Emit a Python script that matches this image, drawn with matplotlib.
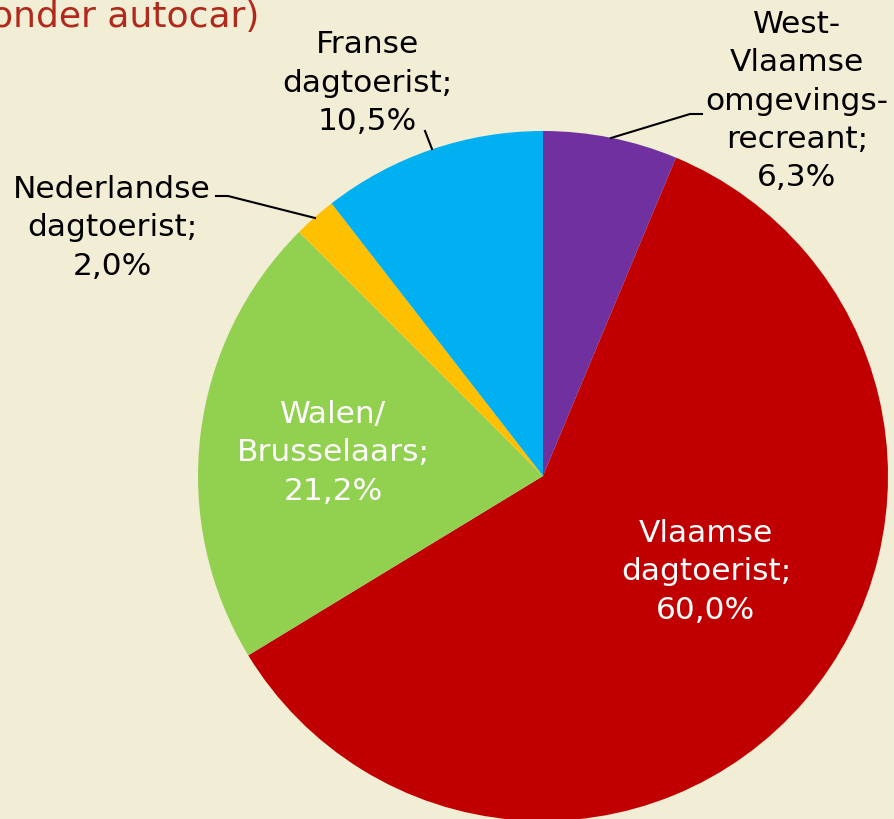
import matplotlib.pyplot as plt

# data
categories = ['West-Vlaamse\nomgevings-\nrecreant', 'Vlaamse\ndagtoerist', 'Walen/\nBrusselaars',
              'Nederlandse\ndagtoerist', 'Franse\ndagtoerist']
shares = [6.3, 60.0, 21.2, 2.0, 10.5]
colors = ['#7030A0', '#C00000', '#92D050', '#FFC000', '#00B0F0']
title = '(zonder autocar)'

bg = '#F2EDD5'
W, H = 894, 820
cx, cy, R = 543, 477, 345  # pie center / radius in pixels


def px(x, y):
    # pixel position (from top-left) -> pie data coords
    return (x - cx) / R, (cy - y) / R


def label(i):
    name = categories[i].replace('West-Vlaamse', 'West-\nVlaamse')
    return name + ';\n' + f'{shares[i]:.1f}'.replace('.', ',') + '%'


fig = plt.figure(figsize=(W / 100, H / 100), dpi=100, facecolor=bg)
fig.text(259 / W, 1 - 27 / H, title, ha='right', va='baseline', fontsize=26, color='#B0291B')

ax = fig.add_axes([(cx - R) / W, (H - cy - R) / H, 2 * R / W, 2 * R / H])
ax.set_facecolor(bg)
ax.pie(shares, colors=colors, startangle=90, counterclock=False, radius=1,
       wedgeprops=dict(linewidth=0))
ax.set_xlim(-1, 1)
ax.set_ylim(-1, 1)
ax.set_aspect('equal')
ax.axis('off')

fs = 22.5
txt = dict(ha='center', va='center', fontsize=fs, linespacing=1.4, clip_on=False)

# outside labels
ax.text(*px(797, 101), label(0), color='black', **txt)
ax.text(*px(367, 83), label(4), color='black', **txt)
ax.text(*px(112, 228), label(3), color='black', **txt)
# inside labels
ax.text(*px(706, 572), label(1), color='white', **txt)
ax.text(*px(333, 453), label(2), color='white', **txt)

# leader lines
for pts in [[(611, 139), (690, 115), (702, 115)],
            [(432, 150), (425, 132)],
            [(216, 197), (228, 197), (315, 219)]]:
    xs, ys = zip(*[px(*p) for p in pts])
    ax.plot(xs, ys, color='black', lw=1.5, clip_on=False)

fig.savefig('out.png', dpi=100, facecolor=bg)
